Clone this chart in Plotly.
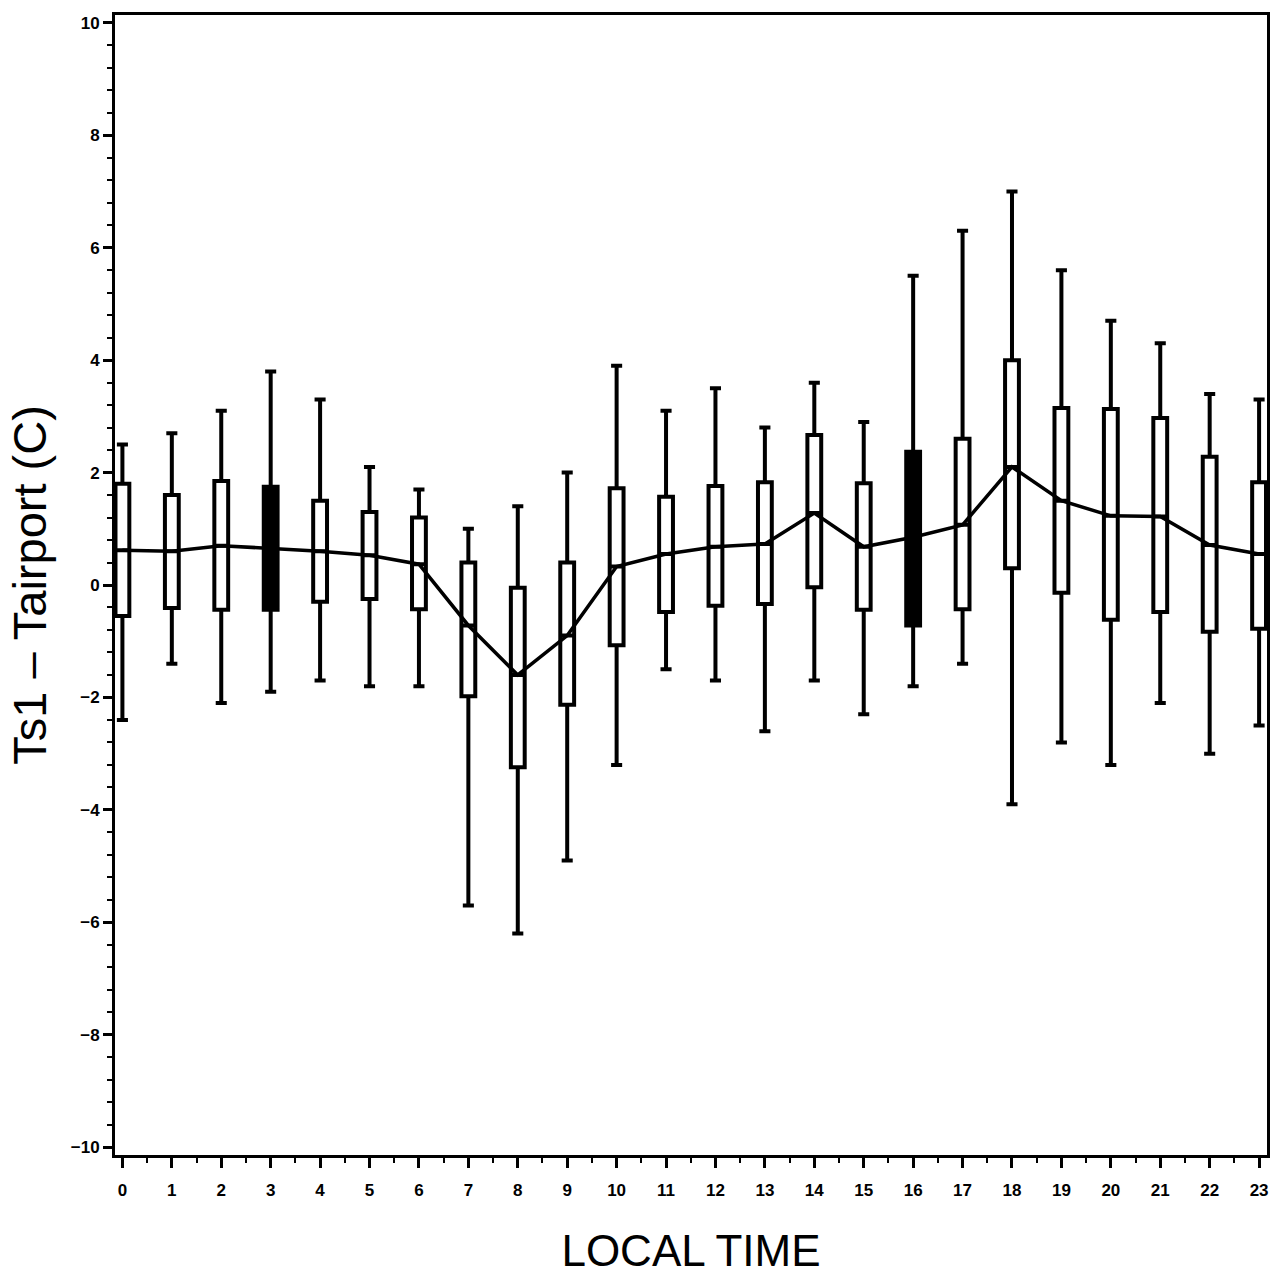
import plotly.graph_objects as go

# Hourly statistics of surface-minus-airport temperature difference
hours = list(range(24))
tick_labels = [str(h) for h in hours]

upper_whisker = [2.5, 2.7, 3.1, 3.8, 3.3, 2.1, 1.7, 1.0, 1.4, 2.0, 3.9, 3.1,
                 3.5, 2.8, 3.6, 2.9, 5.5, 6.3, 7.0, 5.6, 4.7, 4.3, 3.4, 3.3]
q3 = [1.8, 1.6, 1.85, 1.75, 1.5, 1.3, 1.2, 0.4, -0.05, 0.4, 1.72, 1.57,
      1.76, 1.83, 2.67, 1.81, 2.37, 2.6, 4.0, 3.15, 3.13, 2.97, 2.28, 1.83]
mean = [0.62, 0.6, 0.7, 0.65, 0.6, 0.53, 0.37, -0.72, -1.6, -0.9, 0.33, 0.55,
        0.68, 0.73, 1.28, 0.68, 0.85, 1.07, 2.1, 1.5, 1.23, 1.22, 0.71, 0.55]
q1 = [-0.55, -0.41, -0.44, -0.44, -0.3, -0.25, -0.43, -1.98, -3.24, -2.13, -1.07, -0.48,
      -0.37, -0.34, -0.04, -0.44, -0.72, -0.43, 0.3, -0.14, -0.62, -0.48, -0.83, -0.78]
lower_whisker = [-2.4, -1.4, -2.1, -1.9, -1.7, -1.8, -1.8, -5.7, -6.2, -4.9, -3.2, -1.5,
                 -1.7, -2.6, -1.7, -2.3, -1.8, -1.4, -3.9, -2.8, -3.2, -2.1, -3.0, -2.5]

# hours whose boxes are drawn solid
solid_hours = [3, 16]

FONT = "Liberation Sans, Arial, sans-serif"
TICK_FONT = dict(family=FONT, size=17, color="black", weight="bold")


def pick(values, idx):
    return [values[i] for i in idx]


fig = go.Figure()

for idx, fill in [([h for h in hours if h not in solid_hours], "white"),
                  (solid_hours, "black")]:
    fig.add_trace(go.Box(
        x=pick(hours, idx),
        q1=pick(q1, idx),
        median=pick(mean, idx),
        q3=pick(q3, idx),
        lowerfence=pick(lower_whisker, idx),
        upperfence=pick(upper_whisker, idx),
        width=0.28,
        whiskerwidth=0.8,
        fillcolor=fill,
        line=dict(color="black", width=4),
        boxpoints=False,
        hoverinfo="skip",
        showlegend=False,
    ))

# hourly mean connecting line
fig.add_trace(go.Scatter(
    x=hours, y=mean, mode="lines",
    line=dict(color="black", width=3.5),
    showlegend=False,
))

fig.update_layout(
    width=1276, height=1286,
    margin=dict(l=115, r=6, t=15, b=131),
    paper_bgcolor="white", plot_bgcolor="white",
    showlegend=False,
)

fig.update_xaxes(
    range=[-0.15, 23.16],
    tickmode="array", tickvals=hours, ticktext=tick_labels,
    ticks="outside", ticklen=10, tickwidth=2.5, tickcolor="black",
    ticklabelstandoff=8,
    minor=dict(ticks="outside", dtick=0.5, tick0=0, ticklen=5, tickwidth=2, tickcolor="black"),
    tickfont=TICK_FONT,
    showline=True, linecolor="black", linewidth=3, mirror=True,
    showgrid=False, zeroline=False,
    title=dict(text="LOCAL TIME", font=dict(family=FONT, size=44, color="black"), standoff=36),
)

fig.update_yaxes(
    range=[-10.14, 10.14],
    tickmode="linear", tick0=0, dtick=2,
    ticks="outside", ticklen=9, tickwidth=2.5, tickcolor="black",
    minor=dict(ticks="outside", dtick=0.4, tick0=0, ticklen=5, tickwidth=2, tickcolor="black"),
    tickfont=TICK_FONT,
    showline=True, linecolor="black", linewidth=3, mirror=True,
    showgrid=False, zeroline=False,
    title=dict(text="Ts1 – Tairport (C)", font=dict(family=FONT, size=47, color="black"), standoff=10),
)

fig.write_html("out.html")
